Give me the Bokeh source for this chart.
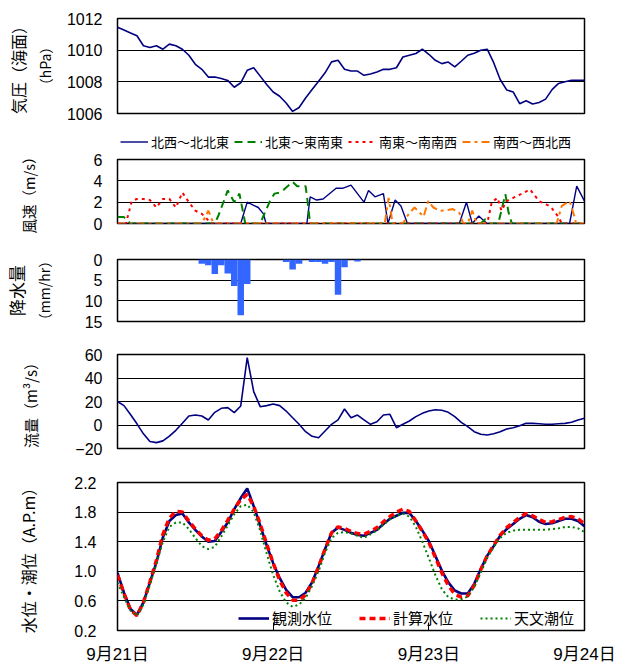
from bokeh.plotting import figure
from bokeh.layouts import column
from bokeh.models import Range1d, FixedTicker, LinearAxis, Legend, LegendItem
from bokeh.embed import file_html
from bokeh.resources import INLINE

# ---------------- data ----------------
hours = list(range(73))
pressure = [1011.45, 1011.27, 1011.09, 1010.91, 1010.28, 1010.17, 1010.28, 1010.06, 1010.38, 1010.28,
            1010.06, 1009.68, 1009.11, 1008.79, 1008.30, 1008.30, 1008.21, 1008.09, 1007.66, 1007.94,
            1008.73, 1008.89, 1008.36, 1007.83, 1007.36, 1007.09, 1006.66, 1006.13, 1006.38, 1006.98,
            1007.51, 1008.04, 1008.57, 1009.26, 1009.36, 1008.79, 1008.68, 1008.68, 1008.41, 1008.50,
            1008.62, 1008.79, 1008.79, 1008.89, 1009.57, 1009.68, 1009.79, 1010.06, 1009.74, 1009.36,
            1009.15, 1009.25, 1008.94, 1009.30, 1009.68, 1009.80, 1010.00, 1010.06, 1009.21, 1008.15,
            1007.49, 1007.36, 1006.62, 1006.81, 1006.60, 1006.70, 1006.91, 1007.51, 1007.90, 1008.00,
            1008.10, 1008.10, 1008.10]

wind_labels = ["北西～北北東", "北東～東南東", "南東～南南西", "南西～西北西"]
wind_nw_h = [0, 19, 20, 21.7, 22.5, 22.9, 29.2, 29.7, 30.7, 31.7, 33.7, 34.7, 36, 38, 38.7, 39.7, 41,
             41.7, 42.8, 43.7, 44.7, 52.7, 53.8, 54.7, 55.7, 56.5, 57, 69.7, 70.8, 72]
wind_nw = [0, 0, 2.0, 1.5, 0.9, 0, 0, 2.5, 2.2, 2.3, 3.3, 3.3, 3.6, 2.0, 3.1, 2.5, 2.8,
           0, 2.2, 1.65, 0, 0, 2.0, 0, 0.7, 0.25, 0, 0, 3.5, 2.1]
wind_ne_h = [0, 1, 2, 15, 15.6, 16.2, 17, 18, 18.8, 19.7, 22, 23.5, 24.2, 25, 25.7, 27, 27.7, 29,
             29.2, 29.7, 56, 56.7, 57.5, 58.7, 59.8, 60.3, 60.8, 72]
wind_ne = [0.6, 0.6, 0, 0, 0.8, 1.8, 3.1, 2.0, 2.8, 0, 0, 2.1, 2.8, 2.9, 3.2, 3.9, 3.5, 3.5,
           2.6, 0, 0, 0.4, 0, 0, 2.75, 1.0, 0, 0]
wind_se_h = [0, 1.3, 2.2, 3, 4, 5, 6, 7, 8, 9, 10, 11, 12, 13, 14, 14.5, 57, 57.7, 58.6, 59.2, 60,
             61, 62.2, 63.6, 65, 66.4, 67, 68, 68.5, 72]
wind_se = [0, 0, 2.1, 2.3, 2.3, 2.2, 1.5, 2.3, 2.3, 1.5, 2.9, 2.0, 1.2, 0.9, 0.3, 0, 0, 2.0, 2.4, 1.2, 2.1,
           2.4, 2.75, 3.2, 2.1, 1.7, 1.4, 0.6, 0, 0]
wind_sw_h = [0, 13, 14, 14.8, 41.2, 41.8, 42.1, 42.4, 44, 44.9, 45.8, 47.2, 47.9, 48.7, 49.7, 50.7,
             51.7, 52.7, 53.3, 54.0, 54.7, 55.4, 67.7, 68.5, 69.7, 70.5, 70.7, 72]
wind_sw = [0, 0, 1.2, 0, 0, 2.4, 1.3, 0, 0, 0.9, 1.5, 0.65, 2.1, 1.5, 1.2, 1.25,
           1.35, 1.0, 0, 0, 1.2, 0, 0, 1.65, 2.1, 0.55, 0, 0]

rain_h = [13, 14, 15, 16, 17, 18, 19, 20, 26, 27, 28, 30, 31, 32, 33, 34, 35, 37]
rain = [1.0, 1.4, 3.5, 1.4, 3.4, 6.4, 13.5, 5.9, 0.6, 2.4, 1.0, 0.6, 0.6, 1.0, 0.6, 8.5, 1.9, 0.5]

flow = [20, 16.5, 9, 1, -7.5, -14, -15, -13.5, -9.5, -4.5,
        1.5, 7.7, 8.5, 7.7, 4.3, 10.8, 14.2, 14.8, 10.5, 16.2,
        57.3, 28.4, 15.6, 16.5, 17.9, 16.5, 11.9, 6.2, 0.6, -5.7,
        -9.6, -10.8, -5.1, 0.6, 4.3, 13.6, 6.2, 8.5, 4.3, 0.6,
        2.8, 8.5, 9.1, -2.3, 0.6, 3.4, 7.1, 9.9, 11.9, 13.0,
        12.5, 10.8, 7.1, 2.3, -1.4, -5.7, -7.9, -8.5, -7.4, -5.7,
        -3.4, -2.3, -0.6, 1.4, 1.4, 1.1, 0.6, 0.6, 1.1, 1.4,
        2.3, 4.3, 5.7]

level_labels = ["観測水位", "計算水位", "天文潮位"]
level_obs = [0.98, 0.71, 0.49, 0.41, 0.58, 0.85, 1.12, 1.46, 1.68, 1.76,
             1.78, 1.66, 1.56, 1.47, 1.40, 1.41, 1.53, 1.66, 1.84, 1.99,
             2.12, 1.88, 1.62, 1.35, 1.11, 0.91, 0.75, 0.65, 0.65, 0.71,
             0.85, 1.07, 1.30, 1.52, 1.59, 1.56, 1.52, 1.49, 1.48, 1.52,
             1.56, 1.64, 1.71, 1.75, 1.79, 1.79, 1.68, 1.55, 1.41, 1.21,
             1.01, 0.85, 0.74, 0.70, 0.70, 0.83, 1.03, 1.21, 1.34, 1.48,
             1.57, 1.64, 1.71, 1.76, 1.73, 1.67, 1.64, 1.65, 1.68, 1.71,
             1.71, 1.68, 1.61]
level_calc = [0.95, 0.70, 0.48, 0.40, 0.58, 0.86, 1.15, 1.50, 1.72, 1.81,
              1.80, 1.68, 1.57, 1.48, 1.42, 1.44, 1.55, 1.69, 1.84, 1.97,
              2.04, 1.88, 1.64, 1.37, 1.11, 0.88, 0.71, 0.61, 0.61, 0.68,
              0.84, 1.06, 1.30, 1.52, 1.60, 1.58, 1.54, 1.51, 1.50, 1.54,
              1.59, 1.67, 1.74, 1.80, 1.84, 1.81, 1.68, 1.54, 1.39, 1.19,
              0.98, 0.81, 0.69, 0.65, 0.67, 0.81, 1.02, 1.21, 1.35, 1.49,
              1.59, 1.66, 1.73, 1.78, 1.75, 1.70, 1.66, 1.67, 1.70, 1.73,
              1.74, 1.71, 1.64]
level_astro = [0.85, 0.65, 0.47, 0.40, 0.55, 0.82, 1.10, 1.40, 1.60, 1.66,
               1.66, 1.57, 1.45, 1.34, 1.30, 1.33, 1.47, 1.62, 1.77, 1.88,
               1.90, 1.80, 1.55, 1.24, 0.95, 0.73, 0.58, 0.52, 0.55, 0.64,
               0.80, 1.00, 1.25, 1.45, 1.52, 1.53, 1.51, 1.48, 1.45, 1.50,
               1.55, 1.63, 1.70, 1.75, 1.78, 1.74, 1.60, 1.40, 1.18, 0.95,
               0.76, 0.65, 0.62, 0.62, 0.66, 0.79, 0.98, 1.18, 1.33, 1.45,
               1.52, 1.55, 1.56, 1.56, 1.56, 1.56, 1.56, 1.57, 1.58, 1.60,
               1.60, 1.58, 1.53]

day_ticks = [0, 24, 48, 72]
day_labels = ["9月21日", "9月22日", "9月23日", "9月24日"]

# ---------------- styling helpers ----------------
JP = "Noto Sans CJK JP"
NUM = "Liberation Sans"
W = 617
LEFT = 106
RIGHT = 33
NAVY = "#000080"
WIND_STYLES = [dict(line_color=NAVY, line_width=1.4),
               dict(line_color="#008000", line_width=2, line_dash="8 5"),
               dict(line_color="#FF0000", line_width=2, line_dash="3 4"),
               dict(line_color="#FF7700", line_width=2, line_dash="8 4 3 4")]
WIND_H = [wind_nw_h, wind_ne_h, wind_se_h, wind_sw_h]
WIND_V = [wind_nw, wind_ne, wind_se, wind_sw]


def make_fig(height, top, bottom, yr, ticks, overrides=None, xaxis=False):
    p = figure(width=W, height=height, x_range=Range1d(0, 72), y_range=yr,
               x_axis_location="below" if xaxis else None,
               output_backend="svg", toolbar_location=None,
               min_border_left=LEFT, min_border_right=RIGHT,
               min_border_top=top, min_border_bottom=bottom)
    p.outline_line_color = "black"
    p.outline_line_width = 1.5
    p.xgrid.grid_line_color = None
    p.ygrid.grid_line_color = "black"
    p.ygrid.grid_line_width = 1.2
    ax = p.yaxis[0]
    ax.ticker = FixedTicker(ticks=ticks)
    if overrides:
        ax.major_label_overrides = overrides
    ax.axis_line_color = None
    ax.major_tick_line_color = None
    ax.minor_tick_line_color = None
    ax.major_tick_out = 0
    ax.major_tick_in = 0
    ax.major_label_standoff = 15
    ax.major_label_text_font = NUM
    ax.major_label_text_font_size = "16px"
    ax.major_label_text_color = "black"
    ax.axis_label_text_font = JP
    ax.axis_label_text_font_style = "normal"
    ax.axis_label_text_font_size = "16px"
    ax.axis_label_text_color = "black"
    return p


def outer_label(p, text, size, standoff):
    ax = LinearAxis(ticker=FixedTicker(ticks=[]), axis_label=text,
                    axis_line_color=None, major_tick_line_color=None,
                    minor_tick_line_color=None, major_tick_out=0, major_tick_in=0,
                    major_label_standoff=0, axis_label_standoff=standoff,
                    axis_label_text_font=JP, axis_label_text_font_size=size,
                    axis_label_text_font_style="normal", axis_label_text_color="black")
    p.add_layout(ax, "left")


# ---------------- 1: pressure ----------------
p1 = make_fig(122, 18, 9, Range1d(1006, 1012), [1006, 1008, 1010, 1012])
p1.line(hours, pressure, line_color=NAVY, line_width=1.6)
p1.yaxis[0].axis_label = "（hPa）"
p1.yaxis[0].axis_label_text_font_size = "14px"
p1.yaxis[0].axis_label_standoff = 9
outer_label(p1, "気圧（海面）", "16px", 2)

# ---------------- wind legend strip (same series, kept out of its view) ----------------
pl = figure(width=W, height=29, x_range=Range1d(0, 72), y_range=Range1d(100, 101),
            x_axis_location=None, y_axis_location=None,
            output_backend="svg", toolbar_location=None,
            min_border_left=LEFT, min_border_right=RIGHT,
            min_border_top=0, min_border_bottom=0)
pl.outline_line_color = None
pl.xgrid.grid_line_color = None
pl.ygrid.grid_line_color = None
legend_renderers = [pl.line(hx, vy, **st) for hx, vy, st in zip(WIND_H, WIND_V, WIND_STYLES)]
leg2 = Legend(items=[LegendItem(label=lab, renderers=[r])
                     for lab, r in zip(wind_labels, legend_renderers)],
              orientation="horizontal", ncols=4, location=(3, 0),
              label_text_font=JP, label_text_font_size="13px", label_text_color="black",
              glyph_width=28, glyph_height=13, label_height=13, label_standoff=3, spacing=5,
              padding=0, margin=0, border_line_color=None, background_fill_alpha=0)
pl.add_layout(leg2, "center")

# ---------------- 2: wind ----------------
p2 = make_fig(89, 8, 17, Range1d(0, 6), [0, 2, 4, 6])
p2.yaxis[0].axis_label = "風速（m/s）"
p2.yaxis[0].axis_label_text_font_size = "14.5px"
p2.yaxis[0].axis_label_standoff = 52
for hx, vy, st in zip(WIND_H, WIND_V, WIND_STYLES):
    p2.line(hx, vy, **st)

# ---------------- 3: rainfall ----------------
p3 = make_fig(95, 19, 14, Range1d(15, 0), [0, 5, 10, 15])
p3.vbar(x=rain_h, width=1, top=rain, bottom=0, fill_color="#3366FF", line_color=None)
p3.yaxis[0].axis_label = "（mm/hr）"
p3.yaxis[0].axis_label_text_font_size = "14px"
p3.yaxis[0].axis_label_standoff = 28
outer_label(p3, "降水量", "17px", 2)

# ---------------- 4: discharge ----------------
p4 = make_fig(130, 19, 17, Range1d(-20, 60), [-20, 0, 20, 40, 60], {-20: "−20"})
p4.line(hours, flow, line_color=NAVY, line_width=1.6)
p4.yaxis[0].axis_label = "流量（m³/s）"
p4.yaxis[0].axis_label_text_font_size = "15px"
p4.yaxis[0].axis_label_standoff = 31

# ---------------- 5: water level ----------------
lv_ticks = [0.2, 0.6, 1.0, 1.4, 1.8, 2.2]
p5 = make_fig(201, 17, 36, Range1d(0.2, 2.2), lv_ticks,
              {t: f"{t:.1f}" for t in lv_ticks}, xaxis=True)
p5.yaxis[0].axis_label = "水位・潮位（A.P.m）"
p5.yaxis[0].major_label_standoff = 21
p5.yaxis[0].axis_label_standoff = 31
xa = p5.xaxis[0]
xa.ticker = FixedTicker(ticks=day_ticks)
xa.major_label_overrides = dict(zip(day_ticks, day_labels))
xa.axis_line_color = None
xa.major_tick_in = 8
xa.major_tick_out = 0
xa.major_tick_line_color = "black"
xa.minor_tick_line_color = None
xa.major_label_standoff = 14
xa.major_label_text_font = "Liberation Sans, Noto Sans CJK JP"
xa.major_label_text_font_size = "17px"
xa.major_label_text_color = "black"
r_obs = p5.line(hours, level_obs, line_color=NAVY, line_width=2.6)
r_calc = p5.line(hours, level_calc, line_color="#FF0000", line_width=3.5, line_dash="6 4")
r_ast = p5.line(hours, level_astro, line_color="#008000", line_width=2, line_dash="2 3")
leg5 = Legend(items=[LegendItem(label=level_labels[0], renderers=[r_obs]),
                     LegendItem(label=level_labels[1], renderers=[r_calc]),
                     LegendItem(label=level_labels[2], renderers=[r_ast])],
              orientation="horizontal", ncols=3, location=(121, 2),
              label_text_font=JP, label_text_font_size="15px", label_text_color="black",
              glyph_width=31, glyph_height=14, label_standoff=3, spacing=27,
              padding=0, margin=0, border_line_color=None, background_fill_alpha=0)
p5.add_layout(leg5, "center")

layout = column(p1, pl, p2, p3, p4, p5, spacing=0)
open("out.html", "w").write(file_html(layout, INLINE))
